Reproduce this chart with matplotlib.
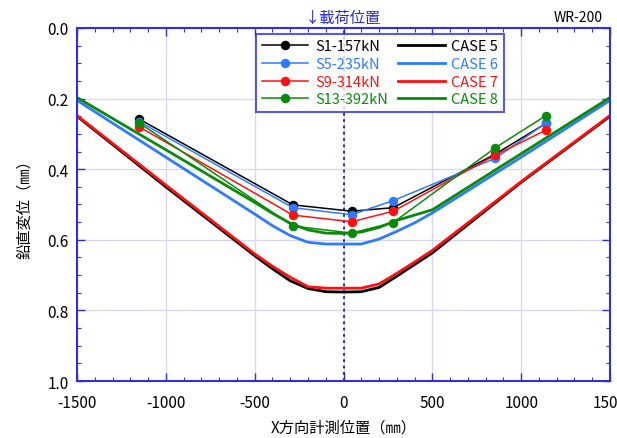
import matplotlib.pyplot as plt
from matplotlib.ticker import MultipleLocator

plt.rcParams['font.family'] = ['Noto Sans CJK JP', 'DejaVu Sans']
plt.rcParams['axes.unicode_minus'] = False

# 計測位置と計測値
x_meas = [-1150, -285, 45, 280, 855, 1140]
s1 = [0.258, 0.501, 0.519, 0.509, 0.357, 0.270]
s5 = [0.265, 0.509, 0.529, 0.489, 0.369, 0.269]
s9 = [0.280, 0.530, 0.549, 0.519, 0.360, 0.289]
s13 = [0.269, 0.561, 0.581, 0.551, 0.339, 0.248]

# 解析結果 (CASE)
x_case = [-1500, -1000, -500, -400, -300, -200, -100, 0, 100, 200, 300, 400, 500, 1000, 1500]
case5 = [0.250, 0.450, 0.645, 0.682, 0.716, 0.738, 0.747, 0.748, 0.747, 0.735, 0.703, 0.670, 0.637, 0.437, 0.250]
case6 = [0.205, 0.366, 0.527, 0.560, 0.588, 0.607, 0.612, 0.612, 0.612, 0.598, 0.576, 0.552, 0.524, 0.366, 0.205]
case7 = [0.248, 0.445, 0.640, 0.675, 0.706, 0.733, 0.737, 0.737, 0.737, 0.725, 0.695, 0.663, 0.630, 0.435, 0.248]
case8 = [0.197, 0.345, 0.494, 0.525, 0.553, 0.572, 0.581, 0.582, 0.578, 0.565, 0.545, 0.530, 0.515, 0.356, 0.197]

labels_meas = ["S1-157kN", "S5-235kN", "S9-314kN", "S13-392kN"]
labels_case = ["CASE 5", "CASE 6", "CASE 7", "CASE 8"]
colors = ["black", "#2f7bff", "#ff1010", "#0a8a0a"]

fig = plt.figure(figsize=(6.17, 4.39), dpi=100)
ax = fig.add_axes([0.1248, 0.1298, 0.8639, 0.8042])

axis_blue = "#3030d8"
ax.grid(True, which="major", color="#d6d6f7", linewidth=0.9)
ax.axvline(0, color="#1a1aa0", linestyle=(0, (1.5, 2)), linewidth=1.3)

h_meas = []
h_case = []
for yc, c, lab in zip([case5, case6, case7, case8], colors, labels_case):
    h, = ax.plot(x_case, yc, color=c, linewidth=2.0, label=lab)
    h_case.append(h)
for ym, c, lab in zip([s1, s5, s9, s13], colors, labels_meas):
    h, = ax.plot(x_meas, ym, color=c, linewidth=1.1, marker="o", markersize=5.8, label=lab)
    h_meas.append(h)

ax.set_xlim(-1500, 1500)
ax.set_ylim(1.0, 0.0)
ax.xaxis.set_major_locator(MultipleLocator(500))
ax.xaxis.set_minor_locator(MultipleLocator(100))
ax.yaxis.set_major_locator(MultipleLocator(0.2))
ax.yaxis.set_minor_locator(MultipleLocator(0.05))
ax.yaxis.set_major_formatter(plt.FuncFormatter(lambda v, p: f"{v:.1f}"))
ax.tick_params(which="both", direction="in", top=True, right=True, color=axis_blue, labelsize=11)
ax.tick_params(which="major", length=6, width=1.0)
ax.tick_params(which="minor", length=3, width=0.8)
ax.tick_params(axis="x", which="major", pad=9)
ax.tick_params(axis="y", which="major", pad=6)
for s in ax.spines.values():
    s.set_color(axis_blue)
    s.set_linewidth(1.5)

ax.set_xlabel("X方向計測位置（㎜）", fontsize=11, labelpad=6)
ax.set_ylabel("鉛直変位（㎜）", fontsize=11, labelpad=10)

ax.text(0, 1.005, "↓載荷位置", transform=ax.get_xaxis_transform(), color="#2b2bd0",
        fontsize=11, ha="center", va="bottom")
ax.text(0.987, 1.01, "WR-200", transform=ax.transAxes, fontsize=10, ha="right", va="bottom")

handles = h_meas + h_case
labs = labels_meas + labels_case
leg = ax.legend(handles, labs, ncol=2, loc="upper left", bbox_to_anchor=(0.322, 1.005),
                frameon=True, fancybox=False, edgecolor=axis_blue, fontsize=10.5,
                handlelength=3.2, handletextpad=0.45, columnspacing=0.7,
                labelspacing=0.25, borderpad=0.4)
leg.get_frame().set_linewidth(1.5)
for t, c in zip(leg.get_texts(), colors + colors):
    t.set_color(c)

fig.savefig("out.png", dpi=100)
